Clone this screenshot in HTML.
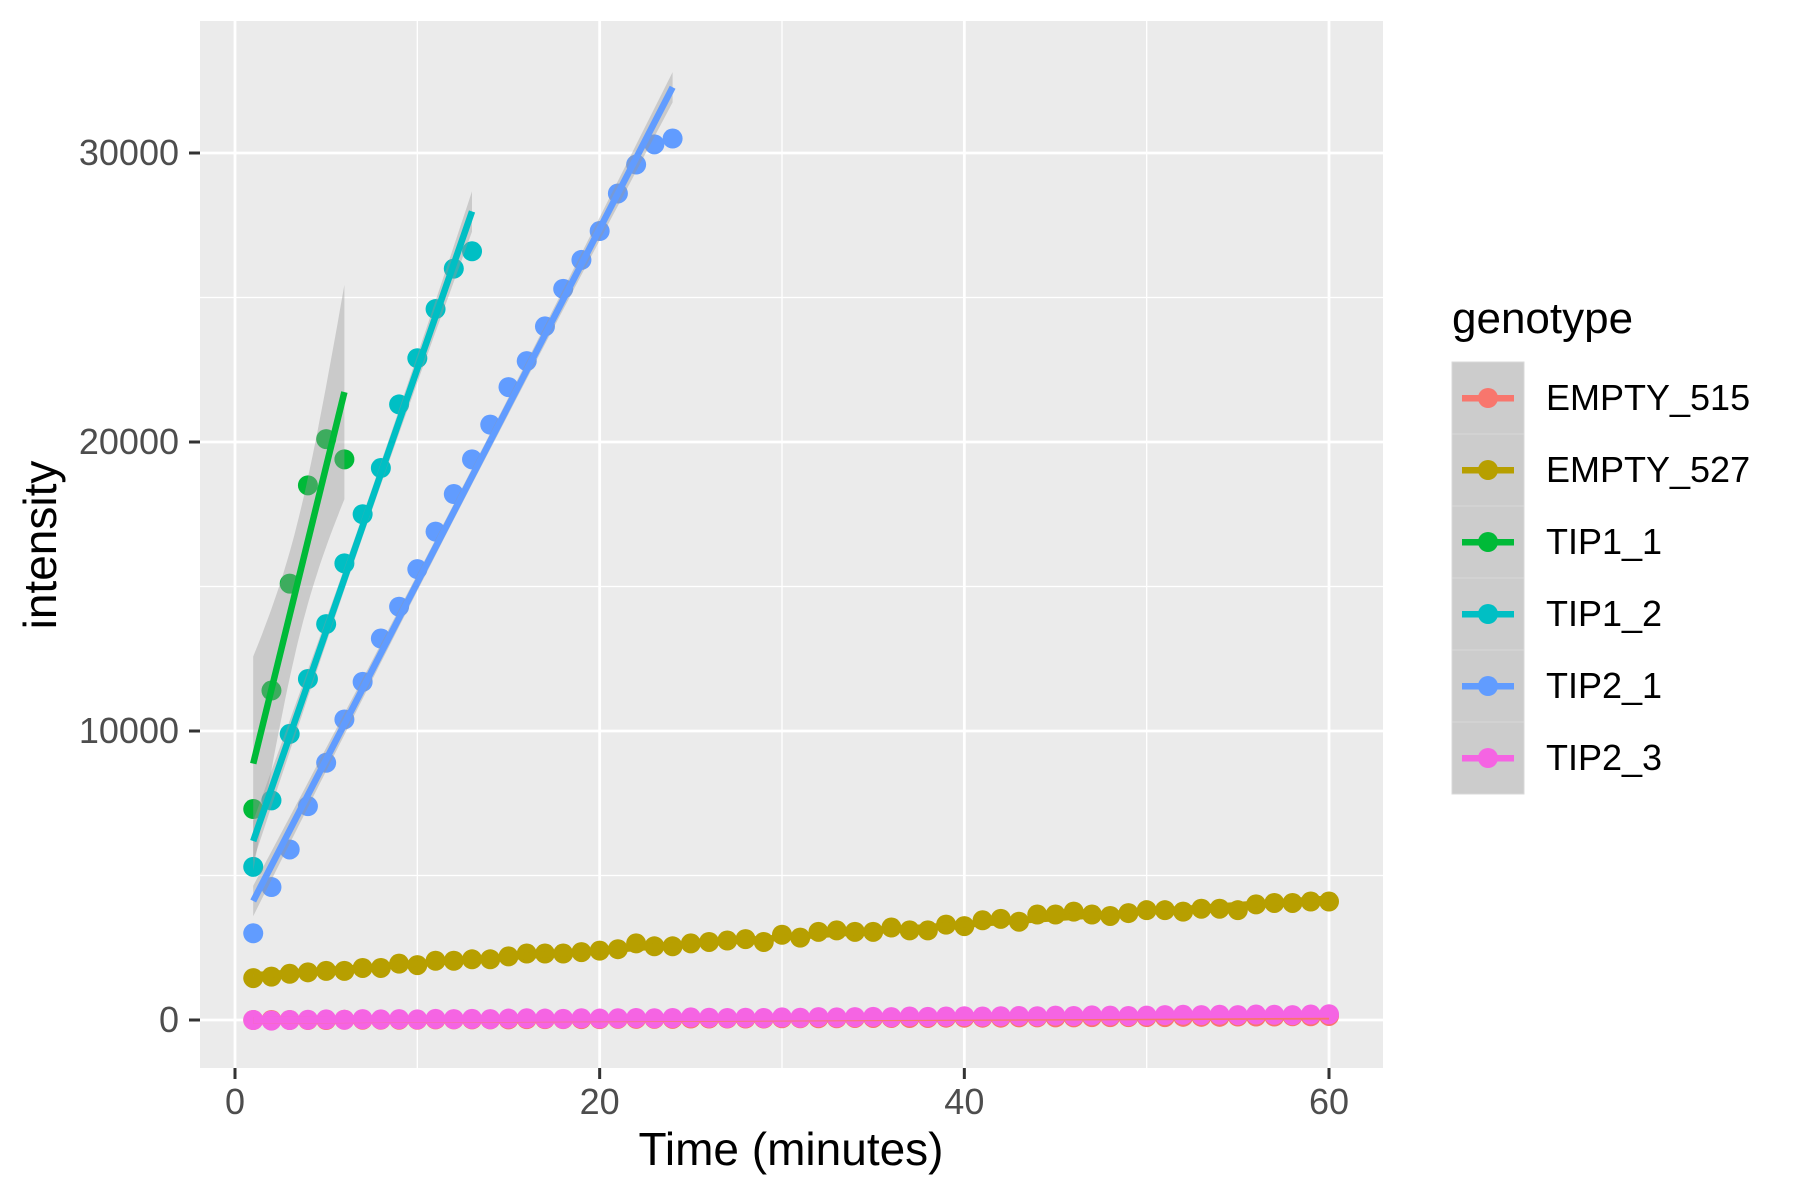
<!DOCTYPE html>
<html><head><meta charset="utf-8"><style>
html,body{margin:0;padding:0;background:#fff;}
svg{display:block;font-family:"Liberation Sans",Arial,sans-serif;}
</style></head><body>
<svg id="chart" width="1800" height="1200" viewBox="0 0 1800 1200" xmlns="http://www.w3.org/2000/svg">
<rect x="200" y="21" width="1183" height="1047" fill="#EBEBEB"/>
<g id="grid"></g>
<g id="points"></g>
<g id="fits"></g>
<g id="axes"></g>
<text x="791" y="1165" font-size="46" text-anchor="middle" fill="#000">Time (minutes)</text>
<text transform="translate(56,545) rotate(-90)" font-size="46" text-anchor="middle" fill="#000">intensity</text>
<g id="legend">
<text x="1452" y="333" font-size="44" fill="#000">genotype</text>
</g>
</svg>
<script>
const categories = ["EMPTY_515","EMPTY_527","TIP1_1","TIP1_2","TIP2_1","TIP2_3"];
const colors = ["#F8766D","#B79F00","#00BA38","#00BFC4","#619CFF","#F564E3"];
const xTicks = [0,20,40,60];
const yTicks = [0,10000,20000,30000];
const empty515 = [0,0,0,0,0,10,10,10,10,10,20,20,20,20,20,30,30,30,30,30,40,40,40,40,50,50,50,50,50,60,60,60,60,70,70,70,70,70,80,80,80,80,90,90,90,90,100,100,100,100,100,110,110,110,120,120,120,130,130,140];
const empty527 = [1450,1500,1600,1650,1700,1700,1800,1800,1950,1900,2050,2050,2100,2100,2200,2300,2300,2300,2350,2400,2450,2650,2550,2550,2650,2700,2750,2800,2700,2950,2850,3050,3100,3050,3050,3200,3100,3100,3300,3250,3450,3500,3400,3650,3650,3750,3650,3600,3700,3800,3800,3750,3850,3850,3800,4000,4050,4050,4100,4100];
const tip1_1 = [7300,11400,15100,18500,20100,19400];
const tip1_2 = [5300,7600,9900,11800,13700,15800,17500,19100,21300,22900,24600,26000,26600];
const tip2_1 = [3000,4600,5900,7400,8900,10400,11700,13200,14300,15600,16900,18200,19400,20600,21900,22800,24000,25300,26300,27300,28600,29600,30300,30500];
const tip2_3 = [0,-20,0,10,20,10,30,20,30,20,40,30,40,30,50,60,50,40,60,50,60,70,60,70,90,80,70,80,70,90,80,100,90,100,110,100,120,110,120,130,120,130,140,130,150,140,160,150,140,150,170,180,170,180,170,190,180,170,190,200];
const seriesValues = [empty515, empty527, tip1_1, tip1_2, tip2_1, tip2_3];

const NS="http://www.w3.org/2000/svg";
const X0=235, XS=(1329-235)/60;
const Y0=1020, YS=(1020-153)/30000;
const xs = t => X0 + t*XS;
const ys = v => Y0 - v*YS;
function mk(tag, attrs, parent){const e=document.createElementNS(NS,tag);for(const k in attrs)e.setAttribute(k,attrs[k]);parent.appendChild(e);return e;}

const grid=document.getElementById('grid');
[5000,15000,25000].forEach(v=>{const l=mk('line',{x1:200,x2:1383,y1:ys(v),y2:ys(v),stroke:'#fff','stroke-width':1.3},grid);

});
[10,30,50].forEach(v=>{const l=mk('line',{y1:21,y2:1068,x1:xs(v),x2:xs(v),stroke:'#fff','stroke-width':1.3},grid);

});
yTicks.forEach(v=>{const l=mk('line',{x1:200,x2:1383,y1:ys(v),y2:ys(v),stroke:'#fff','stroke-width':2.8},grid);

});
xTicks.forEach(v=>{const l=mk('line',{y1:21,y2:1068,x1:xs(v),x2:xs(v),stroke:'#fff','stroke-width':2.8},grid);

});

const axes=document.getElementById('axes');
yTicks.forEach(v=>{
 const t=mk('line',{x1:189,x2:200,y1:ys(v),y2:ys(v),stroke:'#333','stroke-width':3},axes);
 
 
 const tx=mk('text',{x:179,y:ys(v)+12,'font-size':36,'text-anchor':'end',fill:'#4D4D4D'},axes);tx.textContent=v;
 
 
});
xTicks.forEach(v=>{
 const t=mk('line',{x1:xs(v),x2:xs(v),y1:1068,y2:1079,stroke:'#333','stroke-width':3},axes);
 
 
 const tx=mk('text',{x:xs(v),y:1114,'font-size':36,'text-anchor':'middle',fill:'#4D4D4D'},axes);tx.textContent=v;
 
 
});

const pts=document.getElementById('points');
seriesValues.forEach((arr,i)=>{
 arr.forEach((v,j)=>{
  const c=mk('circle',{cx:xs(j+1),cy:ys(v),r:10,fill:colors[i]},pts);
  
  
 });
});

function tq(df){const tab={1:12.706,2:4.303,3:3.182,4:2.776,5:2.571,6:2.447,7:2.365,8:2.306,9:2.262,10:2.228,11:2.201,12:2.179,15:2.131,20:2.086,22:2.074,30:2.042};
 if(tab[df])return tab[df]; if(df>30)return 2.0; let k=Object.keys(tab).map(Number).filter(d=>d<=df).pop();return tab[k];}
const fits=document.getElementById('fits');
seriesValues.forEach((arr,i)=>{
 const n=arr.length, xv=arr.map((_,j)=>j+1);
 const xm=xv.reduce((a,b)=>a+b)/n, ym=arr.reduce((a,b)=>a+b)/n;
 let sxx=0,sxy=0;xv.forEach((x,j)=>{sxx+=(x-xm)**2;sxy+=(x-xm)*(arr[j]-ym);});
 const b=sxy/sxx,a=ym-b*xm;
 let sse=0;xv.forEach((x,j)=>{sse+=(arr[j]-a-b*x)**2;});
 const s=Math.sqrt(sse/(n-2)), tv=tq(n-2);
 const N=40, up=[], lo=[];
 for(let k=0;k<=N;k++){const x=1+(n-1)*k/N;const f=a+b*x;const se=s*Math.sqrt(1/n+(x-xm)**2/sxx);
  up.push(xs(x).toFixed(1)+','+ys(f+tv*se).toFixed(1));lo.unshift(xs(x).toFixed(1)+','+ys(f-tv*se).toFixed(1));}
 const r=mk('polygon',{points:up.concat(lo).join(' '),fill:'#999999','fill-opacity':0.4},fits);
 
 
 const l=mk('line',{x1:xs(1),y1:ys(a+b),x2:xs(n),y2:ys(a+b*n),stroke:colors[i],'stroke-width':6.5},fits);
 
 
});

const leg=document.getElementById('legend');
categories.forEach((c,i)=>{
 const y0=362+i*72;
 const g=mk('g',{},leg);
 
 
 mk('rect',{x:1452,y:y0,width:72,height:72,fill:'#CCCCCC',stroke:'#D9D9D9','stroke-width':1},g);
 mk('circle',{cx:1488,cy:y0+36,r:10,fill:colors[i]},g);
 mk('rect',{x:1462,y:y0+33,width:52,height:6.5,fill:colors[i]},g);
 const t=mk('text',{x:1546,y:y0+48,'font-size':36,fill:'#000'},g);t.textContent=c;
});
</script>
</body></html>
